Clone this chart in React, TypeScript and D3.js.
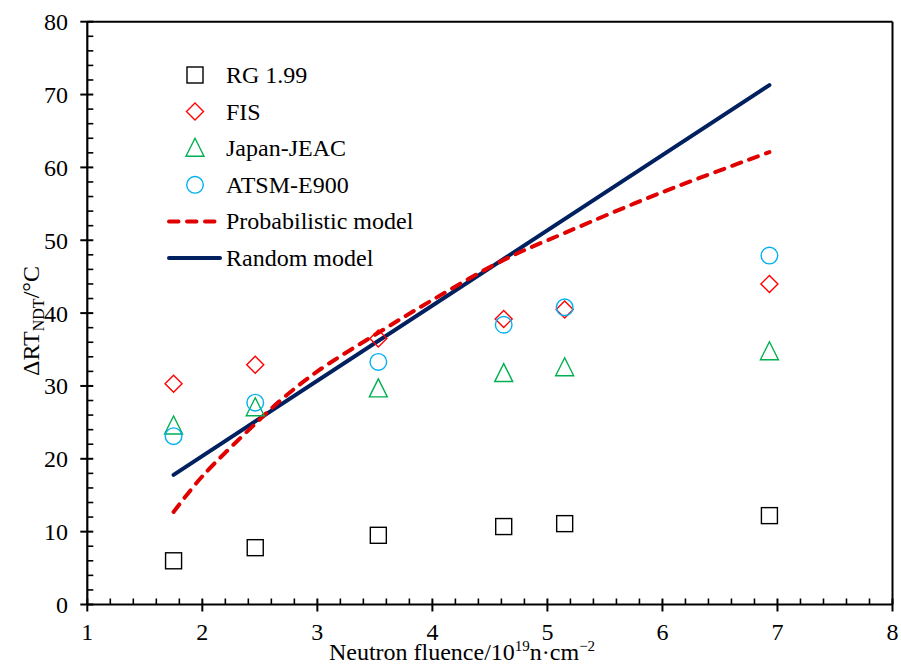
import React from "react";
import * as d3 from "d3";

const fluence = [1.75, 2.46, 3.53, 4.62, 5.15, 6.93];
const rg199 = [6.0, 7.8, 9.5, 10.7, 11.1, 12.2];
const fis = [30.3, 32.9, 36.5, 39.2, 40.5, 44.0];
const jeac = [24.5, 27.0, 29.6, 31.7, 32.5, 34.7];
const astm = [23.1, 27.7, 33.3, 38.4, 40.8, 47.9];

const probX = [1.75, 2.0, 2.46, 2.7, 3.0, 3.53, 4.0, 4.62, 5.15, 6.0, 6.93];
const probY = [12.7, 17.6, 24.8, 28.3, 32.0, 37.3, 41.8, 47.3, 51.0, 56.6, 62.1];
const randX = [1.75, 6.93];
const randY = [17.8, 71.3];

const xTicks = [1, 2, 3, 4, 5, 6, 7, 8];
const yTicks = [0, 10, 20, 30, 40, 50, 60, 70, 80];

const legendItems = ["RG 1.99", "FIS", "Japan-JEAC", "ATSM-E900", "Probabilistic model", "Random model"];

const W = 901, H = 666;
const L = 87.3, R = 892.5, T = 21.7, B = 604.5;
const FONT = "'Liberation Serif', 'Times New Roman', serif";

const C_RG = "#000000";
const C_FIS = "#FF0000";
const C_JEAC = "#00B050";
const C_ASTM = "#00B0F0";
const C_PROB = "#E00000";
const C_RAND = "#002060";

function Marker({ kind, x, y }: { kind: string; x: number; y: number }) {
  if (kind === "sq")
    return <rect x={x - 8} y={y - 8} width={16} height={16} fill="none" stroke={C_RG} strokeWidth={1.4} />;
  if (kind === "di")
    return (
      <path d={`M${x},${y - 8.5}L${x + 8.5},${y}L${x},${y + 8.5}L${x - 8.5},${y}Z`} fill="none" stroke={C_FIS} strokeWidth={1.4} />
    );
  if (kind === "tr")
    return (
      <path d={`M${x},${y - 10}L${x + 9},${y + 8}L${x - 9},${y + 8}Z`} fill="none" stroke={C_JEAC} strokeWidth={1.4} />
    );
  return <circle cx={x} cy={y} r={8.3} fill="none" stroke={C_ASTM} strokeWidth={1.4} />;
}

export default function App() {
  const x = d3.scaleLinear().domain([1, 8]).range([L, R]);
  const y = d3.scaleLinear().domain([0, 80]).range([B, T]);

  const minorX = d3.range(1, 8.001, 0.2).filter((v) => Math.abs(v - Math.round(v)) > 1e-6);
  const minorY = d3.range(0, 80.001, 2).filter((v) => v % 10 !== 0);

  const probLine = d3
    .line<number>()
    .x((_, i) => x(probX[i]))
    .y((d) => y(d))
    .curve(d3.curveCatmullRom)(probY) as string;
  const randLine = d3
    .line<number>()
    .x((_, i) => x(randX[i]))
    .y((d) => y(d))(randY) as string;

  const series: { kind: string; vals: number[] }[] = [
    { kind: "sq", vals: rg199 },
    { kind: "di", vals: fis },
    { kind: "tr", vals: jeac },
    { kind: "ci", vals: astm },
  ];

  const legX = 195, legTextX = 226, legY0 = 75, legDy = 36.6;

  return (
    <svg width={W} height={H} style={{ position: "absolute", left: 0, top: 0, background: "#fff" }} fontFamily={FONT}>
      <rect x={0} y={0} width={W} height={H} fill="#fff" />
      {/* frame */}
      <line x1={L} y1={T} x2={R} y2={T} stroke="#000" strokeWidth={2} />
      <line x1={R} y1={T} x2={R} y2={B} stroke="#000" strokeWidth={2} />

      {/* lines */}
      <path d={randLine} fill="none" stroke={C_RAND} strokeWidth={4} strokeLinecap="round" />
      <path d={probLine} fill="none" stroke={C_PROB} strokeWidth={4} strokeDasharray="9.5 8.5" strokeLinecap="round" />

      {/* markers */}
      {series.map((s) =>
        s.vals.map((v, i) => <Marker key={s.kind + i} kind={s.kind} x={x(fluence[i])} y={y(v)} />)
      )}

      {/* axes */}
      <line x1={L} y1={B} x2={R} y2={B} stroke="#000" strokeWidth={2.2} />
      <line x1={L} y1={T} x2={L} y2={B} stroke="#000" strokeWidth={2.2} />
      {minorX.map((v) => (
        <line key={"mx" + v} x1={x(v)} x2={x(v)} y1={B} y2={B - 6} stroke="#000" strokeWidth={1.6} />
      ))}
      {xTicks.map((v) => (
        <g key={"x" + v}>
          <line x1={x(v)} x2={x(v)} y1={B - 6} y2={B + 7} stroke="#000" strokeWidth={2} />
          <text x={x(v)} y={640} textAnchor="middle" fontSize={24} fill="#000">
            {v}
          </text>
        </g>
      ))}
      {minorY.map((v) => (
        <line key={"my" + v} x1={L} x2={L + 6} y1={y(v)} y2={y(v)} stroke="#000" strokeWidth={1.6} />
      ))}
      {yTicks.map((v) => (
        <g key={"y" + v}>
          <line x1={L - 7} x2={L + 6} y1={y(v)} y2={y(v)} stroke="#000" strokeWidth={2} />
          <text x={68} y={y(v) + 8.5} textAnchor="end" fontSize={24} fill="#000">
            {v}
          </text>
        </g>
      ))}

      {/* axis titles */}
      <text x={462} y={660} textAnchor="middle" fontSize={24} fill="#000">
        Neutron fluence/10
        <tspan fontSize={15} dy={-9}>19</tspan>
        <tspan dy={9}>n·cm</tspan>
        <tspan fontSize={15} dy={-9}>−2</tspan>
      </text>
      <text transform={`translate(39,321) rotate(-90)`} textAnchor="middle" fontSize={24} fill="#000">
        ΔRT
        <tspan fontSize={16} dy={5}>NDT</tspan>
        <tspan dy={-5}>/°C</tspan>
      </text>

      {/* legend */}
      {legendItems.map((name, i) => {
        const ly = legY0 + i * legDy;
        let sym: React.ReactNode = null;
        if (i < 4) sym = <Marker kind={series[i].kind} x={legX} y={ly} />;
        else if (i === 4)
          sym = (
            <line x1={169} x2={220} y1={ly} y2={ly} stroke={C_PROB} strokeWidth={4} strokeDasharray="9.5 8.5" strokeLinecap="round" />
          );
        else sym = <line x1={169} x2={220} y1={ly} y2={ly} stroke={C_RAND} strokeWidth={4} strokeLinecap="round" />;
        return (
          <g key={name}>
            {sym}
            <text x={legTextX} y={ly + 8} fontSize={24} fill="#000">
              {name}
            </text>
          </g>
        );
      })}
    </svg>
  );
}
